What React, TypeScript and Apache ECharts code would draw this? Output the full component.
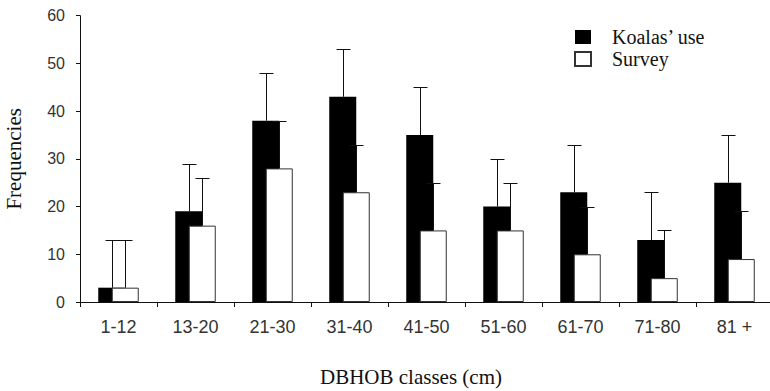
import React, { useEffect, useRef } from "react";
import * as echarts from "echarts";

const categories = ["1-12", "13-20", "21-30", "31-40", "41-50", "51-60", "61-70", "71-80", "81 +"];
const koalasUse = [3, 19, 38, 43, 35, 20, 23, 13, 25];
const survey = [3, 16, 28, 23, 15, 15, 10, 5, 9];
const koalasUseErr = [10, 10, 10, 10, 10, 10, 10, 10, 10];
const surveyErr = [10, 10, 10, 10, 10, 10, 10, 10, 10];
const yTicks = [0, 10, 20, 30, 40, 50, 60];

const BAR_W = 27;
const HALF_OFF = 6.75;
const CAP = 7;

function errorSeries(name: string, values: number[], errs: number[], offset: number) {
  return {
    type: "custom",
    name,
    z: 5,
    silent: true,
    renderItem: (params: any, api: any) => {
      const idx = api.value(0);
      const p0 = api.coord([idx, api.value(1)]);
      const p1 = api.coord([idx, api.value(2)]);
      const x = Math.round(p0[0] + offset) + 0.5;
      const yTop = Math.round(p1[1]) + 0.5;
      return {
        type: "group",
        children: [
          { type: "line", shape: { x1: x, y1: p0[1], x2: x, y2: yTop }, style: { stroke: "#111", lineWidth: 1 } },
          { type: "line", shape: { x1: x - CAP, y1: yTop, x2: x + CAP, y2: yTop }, style: { stroke: "#111", lineWidth: 1 } },
        ],
      };
    },
    encode: { x: 0, y: [1, 2] },
    data: values.map((v, i) => [i, v, v + errs[i]]),
  };
}

export default function App() {
  const ref = useRef<HTMLDivElement>(null);
  useEffect(() => {
    if (!ref.current) return;
    const chart = echarts.init(ref.current, null, { renderer: "svg" });
    chart.setOption({
      animation: false,
      backgroundColor: "#fff",
      grid: { left: 80, top: 15.7, width: 693, height: 286.3, outerBoundsMode: "none", containLabel: false },
      legend: {
        orient: "vertical",
        left: 569,
        top: 22,
        itemWidth: 16,
        itemHeight: 14,
        itemGap: 2,
        icon: "rect",
        data: ["Koalas\u2019 use", "Survey"],
        textStyle: { fontFamily: "Liberation Serif", fontSize: 20, color: "#111", padding: [0, 0, 0, 16], lineHeight: 20 },
      },
      xAxis: {
        type: "category",
        data: categories,
        axisLine: { lineStyle: { color: "#111", width: 1 } },
        axisTick: { show: true, length: 5, alignWithLabel: false, lineStyle: { color: "#111" } },
        axisLabel: { fontFamily: "Liberation Sans", fontSize: 18, color: "#333", margin: 16 },
      },
      yAxis: {
        type: "value",
        min: 0,
        max: 60,
        interval: 10,
        name: "Frequencies",
        nameLocation: "middle",
        nameGap: 56,
        nameTextStyle: { fontFamily: "Liberation Serif", fontSize: 21, color: "#111" },
        splitLine: { show: false },
        axisLine: { show: true, lineStyle: { color: "#111", width: 1 } },
        axisTick: { show: true, length: 4, lineStyle: { color: "#111" } },
        axisLabel: { fontFamily: "Liberation Sans", fontSize: 16, color: "#333", margin: 15, formatter: (v: number) => (yTicks.includes(v) ? String(v) : "") },
      },
      graphic: [
        {
          type: "text",
          x: 411,
          y: 377,
          style: { text: "DBHOB classes (cm)", fontFamily: "Liberation Serif", fontSize: 21, fill: "#111", textAlign: "center", textVerticalAlign: "middle" },
        },
      ],
      series: [
        {
          type: "bar",
          name: "Koalas\u2019 use",
          data: koalasUse,
          barWidth: BAR_W,
          barGap: "-50%",
          itemStyle: { color: "#000" },
          z: 2,
        },
        {
          type: "bar",
          name: "Survey",
          data: survey,
          barWidth: BAR_W,
          barGap: "-50%",
          itemStyle: { color: "#fff", borderColor: "#333", borderWidth: 1 },
          z: 3,
        },
        errorSeries("err1", koalasUse, koalasUseErr, -HALF_OFF),
        errorSeries("err2", survey, surveyErr, HALF_OFF),
      ],
    });
    return () => chart.dispose();
  }, []);
  return <div ref={ref} style={{ position: "absolute", left: 0, top: 0, width: 770, height: 391 }} />;
}
